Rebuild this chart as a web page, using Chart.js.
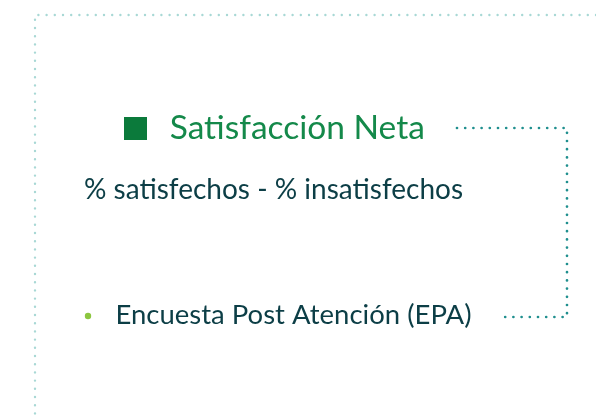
<!DOCTYPE html>
<html>
<head>
<meta charset="utf-8">
<script src="https://cdn.jsdelivr.net/npm/chart.js@4/dist/chart.umd.min.js"></script>
<style>
  html, body { margin: 0; padding: 0; background: #fff; }
</style>
</head>
<body>
<canvas id="netChart" width="596" height="420"></canvas>
<script>
// data shown on the slide
const categories = ["Encuesta Post Atención (EPA)"];
const seriesName = "Satisfacción Neta";
const netValues = [null];   // no value is printed on the slide
const subtitleText = "% satisfechos - % insatisfechos";

const squareGreen = "#0b7a3b";
const titleGreen = "#14894a";
const textDark = "#0c3e46";
const fontFamily = "Lato, 'Open Sans', sans-serif";

// legend marker: 23px square, drawn in a slightly wider slot so the text sits further right
const legendMarker = document.createElement("canvas");
legendMarker.width = 29;
legendMarker.height = 23;
const mctx = legendMarker.getContext("2d");
mctx.fillStyle = squareGreen;
mctx.fillRect(0, 0, 23, 23);

// dotted frame, connectors and the list bullet
const slideDecor = {
    id: "slideDecor",
    beforeDraw(chart) {
        const ctx = chart.ctx;
        ctx.save();
        ctx.lineCap = "round";

        // outer frame (top + left)
        ctx.lineWidth = 2.4;
        ctx.setLineDash([0, 8.2]);
        ctx.strokeStyle = "#a8d8d5";
        ctx.beginPath();
        ctx.moveTo(596, 15);
        ctx.lineTo(35, 15);
        ctx.lineTo(35, 420);
        ctx.stroke();

        // connector legend -> item
        ctx.lineWidth = 2.7;
        ctx.strokeStyle = "#1f8f8e";
        ctx.beginPath();
        ctx.moveTo(457, 128);
        ctx.lineTo(567, 128);
        ctx.lineTo(567, 317);
        ctx.lineTo(502, 317);
        ctx.stroke();

        // bullet
        ctx.setLineDash([]);
        ctx.fillStyle = "#8cc63f";
        ctx.beginPath();
        ctx.arc(88, 316, 3.2, 0, Math.PI * 2);
        ctx.fill();
        ctx.restore();
    }
};

const netChart = new Chart(document.getElementById("netChart"), {
    type: "bar",
    data: {
        labels: categories,
        datasets: [{
            label: seriesName,
            data: netValues,
            backgroundColor: squareGreen,
            borderWidth: 0
        }]
    },
    options: {
        responsive: false,
        animation: false,
        events: [],
        layout: {
            padding: { left: 84, right: 123, top: 101.75, bottom: 88 }
        },
        plugins: {
            legend: {
                display: true,
                position: "top",
                align: "start",
                fullSize: false,
                labels: {
                    usePointStyle: true,
                    pointStyle: legendMarker,
                    pointStyleWidth: 29,
                    boxHeight: 23,
                    padding: 10,
                    color: titleGreen,
                    font: { family: fontFamily, size: 33.5 }
                }
            },
            subtitle: {
                display: true,
                text: subtitleText,
                align: "start",
                weight: 500,
                color: textDark,
                font: { family: fontFamily, size: 28, weight: "normal" },
                padding: { top: 18, bottom: 0 }
            },
            tooltip: { enabled: false }
        },
        scales: {
            x: {
                grid: { display: false, drawTicks: false },
                border: { display: false },
                ticks: {
                    color: textDark,
                    padding: 0,
                    font: { family: fontFamily, size: 27.5 }
                }
            },
            y: {
                grid: { display: false, drawTicks: false },
                border: { display: false },
                ticks: { display: false },
                afterFit(scale) { scale.width = 30; }
            }
        }
    },
    plugins: [slideDecor]
});
</script>
</body>
</html>
